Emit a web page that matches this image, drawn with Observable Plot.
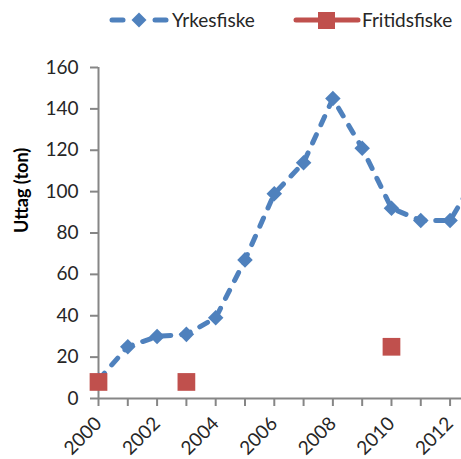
<!DOCTYPE html>
<html><head><meta charset="utf-8">
<script src="https://cdn.jsdelivr.net/npm/d3@7"></script>
<script src="https://cdn.jsdelivr.net/npm/@observablehq/plot@0.6"></script>
<style>
html,body{margin:0;padding:0;background:#fff;overflow:hidden;width:461px;height:459px;}
#legend{position:relative;height:40px;width:461px;}
#chart svg{display:block;overflow:hidden;}
</style></head>
<body>
<div id="legend"></div>
<div id="chart"></div>
<script>
const years = [2000,2001,2002,2003,2004,2005,2006,2007,2008,2009,2010,2011,2012,2013];
const yrkesfiske = [9,25,30,31,39,67,99,114,145,121,92,86,86,110];
const fritidsYears = [2000,2003,2010];
const fritidsfiske = [8,8,25];
const yTicks = [0,20,40,60,80,100,120,140,160];
const xTicks = [2000,2002,2004,2006,2008,2010,2012];
const allYearTicks = [2000,2001,2002,2003,2004,2005,2006,2007,2008,2009,2010,2011,2012];
const yLabel = "Uttag (ton)";
const seriesNames = ["Yrkesfiske","Fritidsfiske"];

const blue = "#4F81BD", red = "#C0504D", gray = "#868686", txt = "#262626";
const font = "Lato, 'Open Sans', sans-serif";

const yrk = years.map((y,i)=>({year:y, value:yrkesfiske[i]}));
const fri = fritidsYears.map((y,i)=>({year:y, value:fritidsfiske[i]}));

// legend
document.getElementById("legend").innerHTML = `
<svg width="461" height="40" style="position:absolute;left:0;top:0;font-family:${font}">
  <line x1="112" y1="20" x2="123" y2="20" stroke="${blue}" stroke-width="5" stroke-linecap="round"/>
  <line x1="155" y1="20" x2="166" y2="20" stroke="${blue}" stroke-width="5" stroke-linecap="round"/>
  <path d="M139,12.5L146.5,20L139,27.5L131.5,20Z" fill="${blue}"/>
  <text x="172" y="27" font-size="19" fill="${txt}">${seriesNames[0]}</text>
  <line x1="296" y1="20" x2="358" y2="20" stroke="${red}" stroke-width="5" stroke-linecap="round"/>
  <rect x="318" y="12" width="17" height="17" fill="${red}"/>
  <text x="362" y="27" font-size="19" fill="${txt}">${seriesNames[1]}</text>
</svg>`;

const plot = Plot.plot({
  width: 461,
  height: 419,
  marginLeft: 98,
  marginRight: 0,
  marginTop: 27,
  marginBottom: 61,
  style: {fontFamily: font, fontSize: "19px", color: txt, background: "#fff"},
  x: {domain: [2000, 2012.39], axis: null},
  y: {domain: [0, 160], axis: null},
  marks: [
    Plot.axisY({ticks: yTicks, tickSize: 8, tickPadding: 12, stroke: gray, strokeWidth: 2, fill: txt, fontSize: 19, label: null}),
    Plot.axisX({ticks: allYearTicks, tickSize: 8, stroke: gray, strokeWidth: 2, tickFormat: () => "", label: null}),
    Plot.axisX({ticks: xTicks, tickSize: 0, tickRotate: -45, tickPadding: 22, fill: txt, fontSize: 19, label: null, tickFormat: d=>String(d)}),
    Plot.ruleY([0], {stroke: gray, strokeWidth: 2}),
    Plot.ruleX([2000], {stroke: gray, strokeWidth: 2}),
    Plot.text([yLabel], {frameAnchor: "left", dx: -76, rotate: -90, fontWeight: "bold", fontSize: 18, fill: "#000"}),
    Plot.line(yrk, {x: "year", y: "value", stroke: blue, strokeWidth: 5, strokeDasharray: "9,11", strokeLinecap: "round", clip: true}),
    Plot.dot(yrk, {x: "year", y: "value", symbol: "diamond2", r: 7, fill: blue, stroke: null, clip: true}),
    Plot.dot(fri, {x: "year", y: "value", symbol: "square", r: 10, fill: red, stroke: null})
  ]
});
document.getElementById("chart").appendChild(plot);
</script>
</body></html>
